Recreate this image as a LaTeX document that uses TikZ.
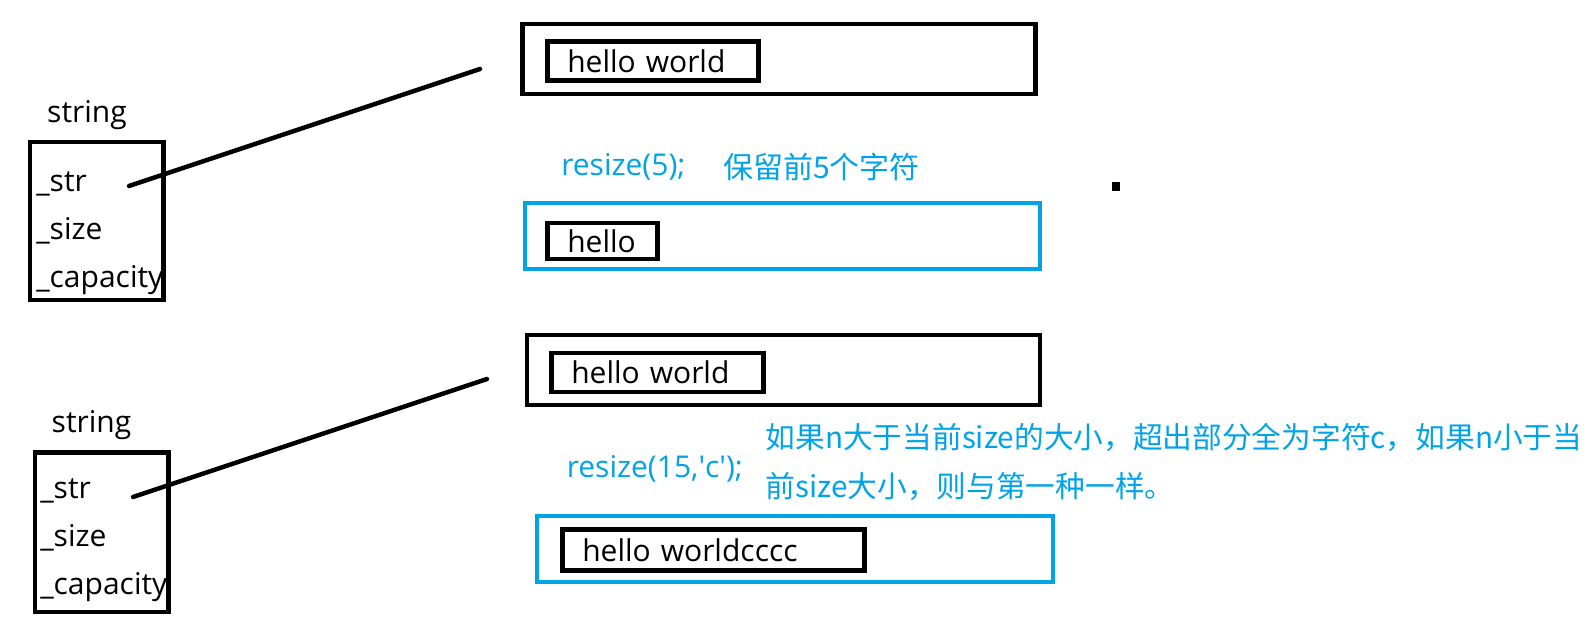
\documentclass[tikz,border=0pt]{standalone}
\usepackage{fontspec}
\setmainfont{Open Sans}
\newfontfamily\cjk{Noto Sans CJK SC}
\definecolor{paintblue}{RGB}{0,162,232}

\begin{document}
\begin{tikzpicture}[x=1pt, y=-1pt, line width=4.5pt]
\tikzset{obj/.style={rectangle, draw, minimum width=133.5pt, minimum height=158pt}}
\tikzset{buf/.style={rectangle, draw, minimum width=513pt, minimum height=70pt}}
\tikzset{cell/.style={rectangle, draw, anchor=west, minimum height=39pt, inner xsep=20pt, align=left, font=\fontsize{30}{36}\selectfont}}
\tikzset{field/.style={anchor=base west, inner sep=0pt, font=\fontsize{30}{36}\selectfont}}
\tikzset{note/.style={anchor=base west, inner sep=0pt, text=paintblue, font=\fontsize{30}{49}\selectfont}}
\tikzstyle{link} = [draw, line width=4.5pt, line cap=round]

\useasboundingbox (0,0) rectangle (1592,624);

% first string object
\node [field, anchor=base] (name1) at (87,122) {string};
\node [obj] (obj1) at (96.75,221) {};
\node [field] (str1) at (34,191) {\_str};
\node [field] (size1) at (34,239) {\_size};
\node [field] (cap1) at (34,287) {\_capacity};

\node [buf] (buf1) at (779,59) {};
\node [cell, text width=171pt] (hw1) at (545,61) {hello world};
\coordinate (from1) at (129,186);
\coordinate (to1) at (480,69);
\path [link] (from1) -- (to1);

\node [note] (call1) at (559,175) {resize(5);};
\node [note] (info1) at (721,178) {\cjk 保留前5个字符};

\node [buf, draw=paintblue, minimum width=515pt, minimum height=66pt] (buf2) at (782.5,236) {};
\node [cell, text width=70pt, minimum height=36pt] (hw2) at (545,241) {hello};

\fill (1112,182) rectangle (1120,191);

% second string object
\node [field, anchor=base] (name2) at (91.5,432) {string};
\node [obj, minimum height=159.5pt] (obj2) at (101.75,532.25) {};
\node [field] (str2) at (38,498) {\_str};
\node [field] (size2) at (38,546) {\_size};
\node [field] (cap2) at (38,594) {\_capacity};

\node [buf] (buf3) at (783.5,370) {};
\node [cell, text width=172pt] (hw3) at (549,372.5) {hello world};
\coordinate (from2) at (133,497);
\coordinate (to2) at (487,379);
\path [link] (from2) -- (to2);

\node [note] (call2) at (564.5,477) {resize(15,\textquotesingle c\textquotesingle);};
\node [note, align=left, anchor=north west, font=\fontsize{29.7}{49}\selectfont] (info2) at (763.5,421) {\cjk 如果n大于当前size的大小，超出部分全为字符c，如果n小于当\\\cjk 前size大小，则与第一种一样。};

\node [buf, draw=paintblue, minimum width=516pt, minimum height=66pt] (buf4) at (795,549) {};
\node [cell, text width=262pt, minimum height=41pt] (hw4) at (560,550) {hello worldcccc};
\end{tikzpicture}
\end{document}
